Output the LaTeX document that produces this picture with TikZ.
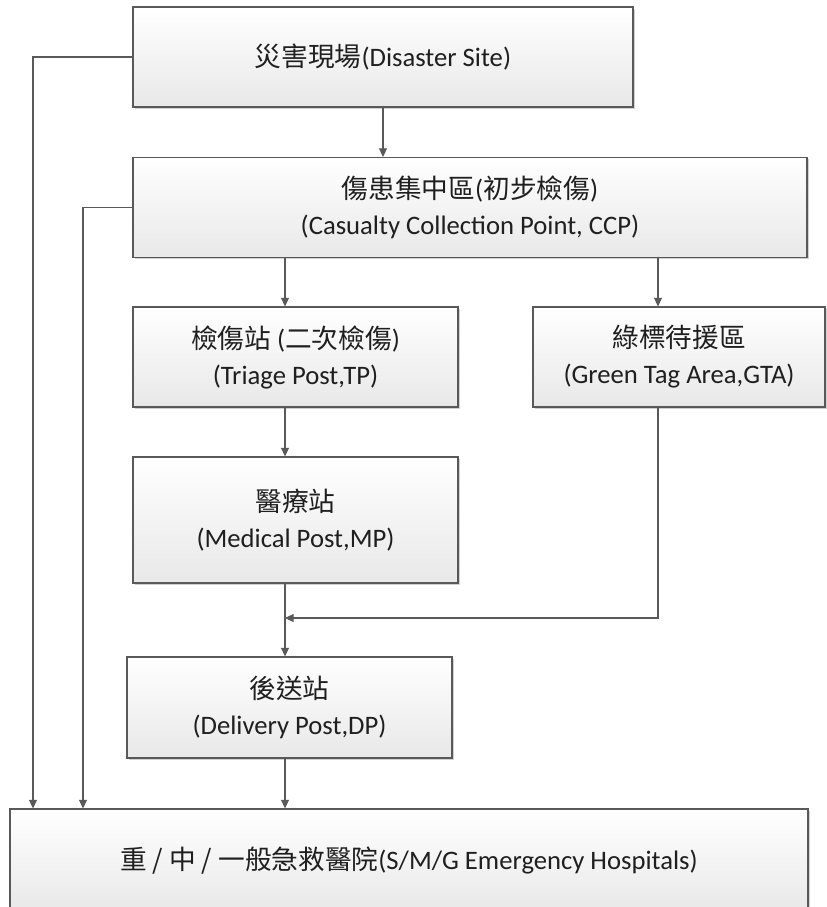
\documentclass[tikz,border=0pt]{standalone}
\usepackage{fontspec}
\setmainfont{Carlito}
\newfontfamily\cjk{Noto Sans CJK TC}
\usetikzlibrary{arrows.meta,shadows}
\definecolor{lineGray}{HTML}{595959}
\definecolor{textGray}{HTML}{1f1f1f}
\newcommand{\zh}[1]{{\cjk #1}}

\begin{document}
\begin{tikzpicture}[x=0.75pt, y=-0.75pt,
    post/.style={rectangle, draw=lineGray, line width=0.8pt, top color=white, bottom color=black!9,
        drop shadow={shadow xshift=1.2pt, shadow yshift=-1.2pt, fill=black, opacity=0.18},
        text=textGray, font=\fontsize{20}{27}\selectfont, align=center, inner sep=0pt},
    flow/.style={draw=lineGray, line width=0.8pt, -{Triangle[width=6pt,length=6.5pt]}}]
                \useasboundingbox (0,0) rectangle (826,907);

                \node[post, minimum width=375pt, minimum height=75pt] (site) at (383,57) {\zh{災害現場}(Disaster Site)};
                \node[post, minimum width=505.5pt, minimum height=75pt] (ccp) at (470,207.5) {\zh{傷患集中區}(\zh{初步檢傷})\\(Casualty Collection Point, CCP)};
                \node[post, minimum width=243.75pt, minimum height=75pt] (tp) at (295.5,357) {\zh{檢傷站} (\zh{二次檢傷})\\(Triage Post,TP)};
                \node[post, minimum width=219pt, minimum height=75pt] (gta) at (679,357) {\zh{綠標待援區}\\(Green Tag Area,GTA)};
                \node[post, minimum width=243.75pt, minimum height=94.5pt] (mp) at (295.5,520) {\zh{醫療站}\\(Medical Post,MP)};
                \node[post, minimum width=243.75pt, minimum height=75.75pt] (dp) at (289.5,707.5) {\zh{後送站}\\(Delivery Post,DP)};
                \node[post, minimum width=598.5pt, minimum height=78pt] (hosp) at (409,861) {\zh{重 / 中 / 一般急救醫院}(S/M/G Emergency Hospitals)};

                % columns of the connectors
                \coordinate (col) at (285,0);
                \coordinate (gcol) at (658,0);
                \coordinate (lane1) at (33,0);
                \coordinate (lane2) at (83,0);
                \coordinate (merge) at (285,618);

                \draw[flow] (site.south) -- (site.south |- ccp.north);
                \draw[flow] (ccp.south -| col) -- (tp.north -| col);
                \draw[flow] (ccp.south -| gcol) -- (gta.north -| gcol);
                \draw[flow] (tp.south -| col) -- (mp.north -| col);
                \draw[flow] (mp.south -| col) -- (dp.north -| col);
                \draw[flow] (gta.south -| gcol) |- (merge);
                \draw[flow] (dp.south -| col) -- (hosp.north -| col);
                \draw[flow] (site.west) -| (lane1 |- hosp.north);
                \draw[flow] (ccp.west) -| (lane2 |- hosp.north);
            \end{tikzpicture}
\end{document}
